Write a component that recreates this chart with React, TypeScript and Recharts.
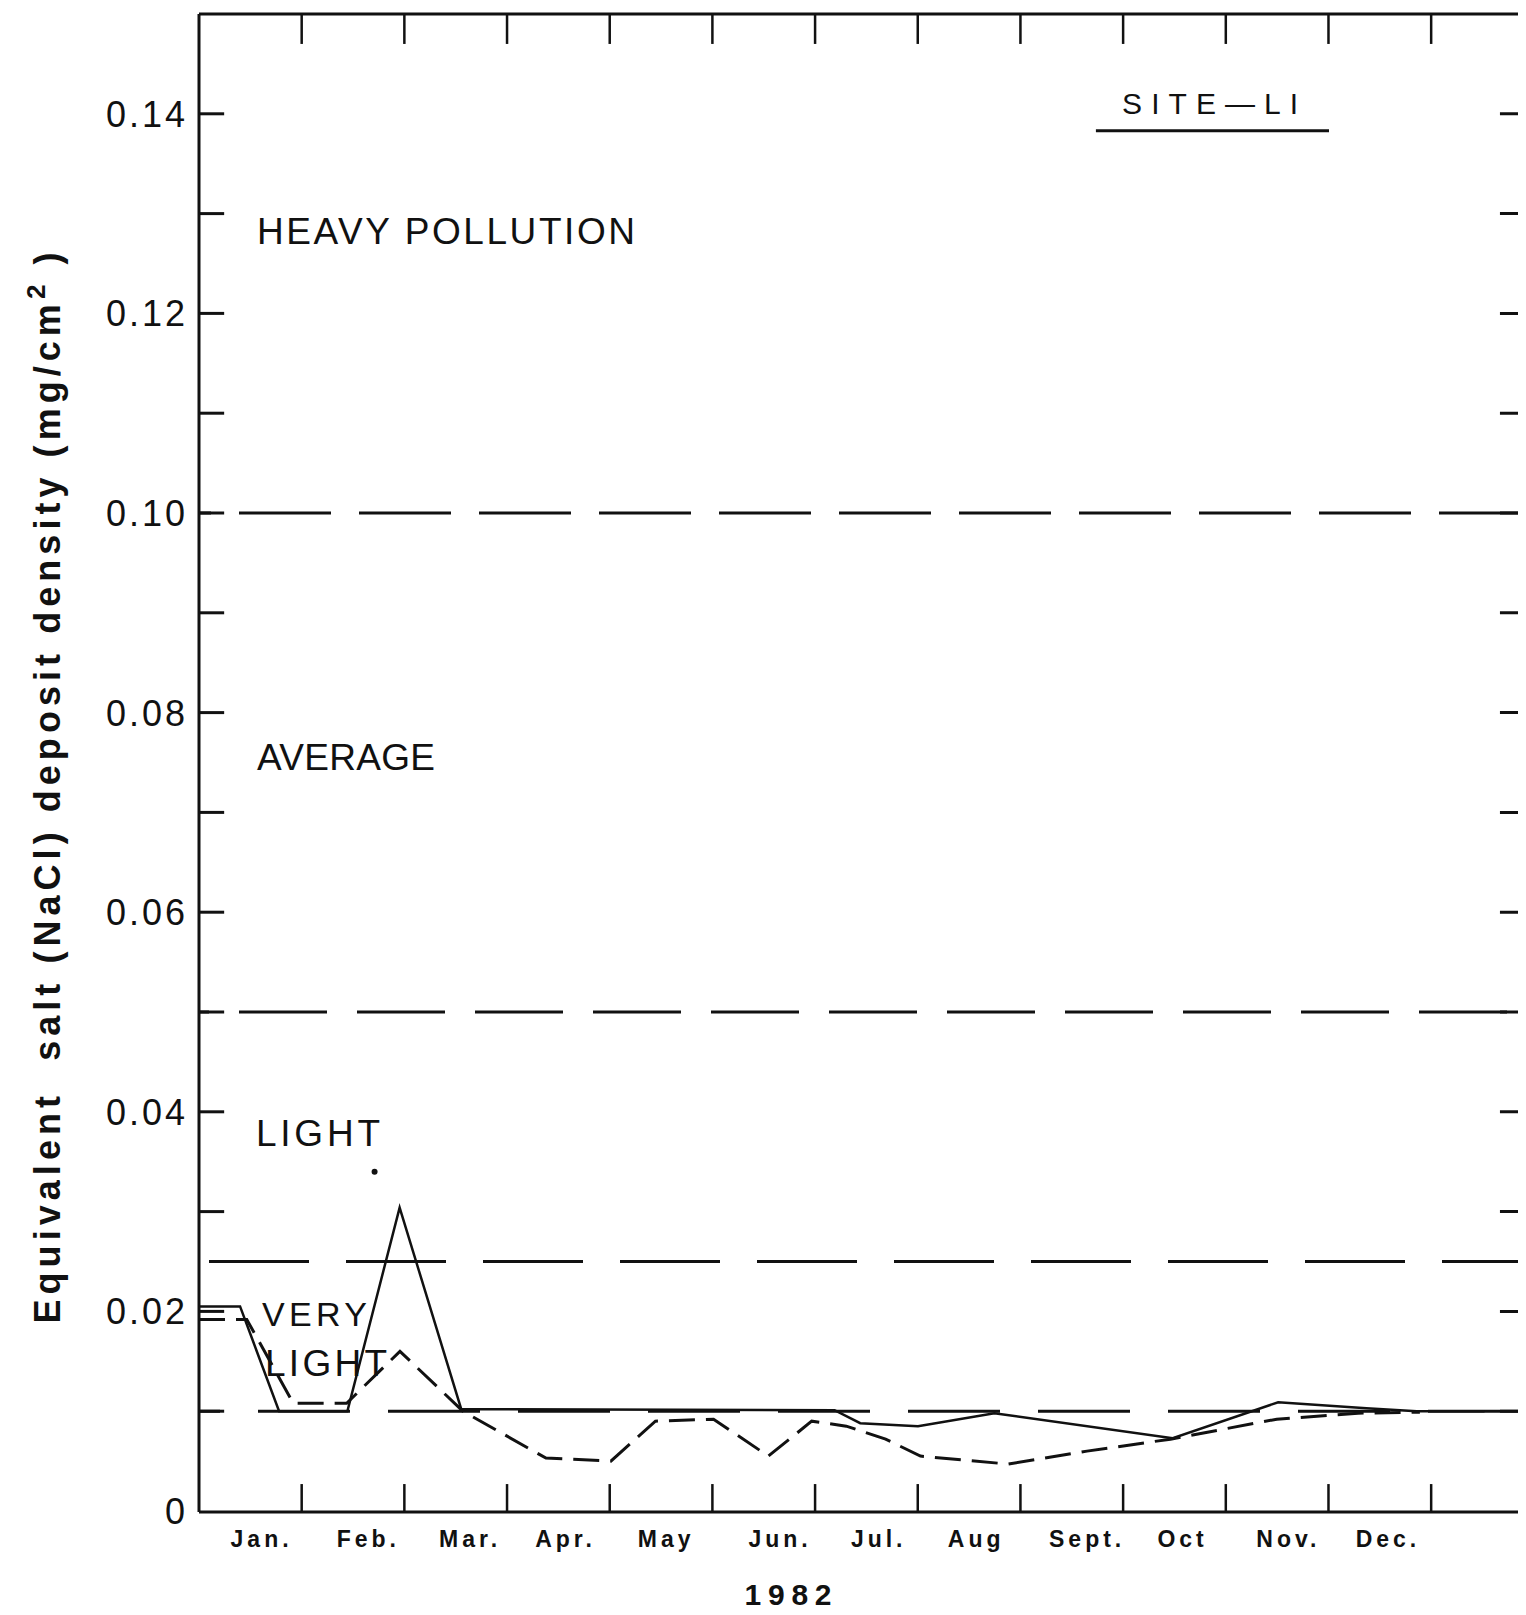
import React from 'react';
import { LineChart, Line, XAxis, YAxis, ReferenceLine, ReferenceDot } from 'recharts';

// ---- categories / ticks ----
const monthNames = ['Jan.', 'Feb.', 'Mar.', 'Apr.', 'May', 'Jun.', 'Jul.', 'Aug', 'Sept.', 'Oct', 'Nov.', 'Dec.'];
const monthLabelPos = [0.59, 1.63, 2.62, 3.55, 4.53, 5.64, 6.6, 7.55, 8.63, 9.56, 10.59, 11.56];
const monthBoundaries = [1, 2, 3, 4, 5, 6, 7, 8, 9, 10, 11, 12];
const yTicks = [0, 0.02, 0.04, 0.06, 0.08, 0.1, 0.12, 0.14];
const yTickLabels = ['0', '0.02', '0.04', '0.06', '0.08', '0.10', '0.12', '0.14'];
const yMinorTicks = [0.01, 0.02, 0.03, 0.04, 0.05, 0.06, 0.07, 0.08, 0.09, 0.1, 0.11, 0.12, 0.13, 0.14];
const classBounds = [0.1, 0.05, 0.025, 0.01];
const yearLabel = '1982';
const yTitleMain = 'Equivalent  salt (NaCl) deposit density (mg/cm';
const yTitleSup = '2';

// ---- series (month position, NaCl density) ----
const solidMonths = [0, 0.4, 0.78, 1.445, 1.954, 2.554, 6.19, 6.44, 7.002, 7.746, 9.483, 10.51, 11.37, 11.86, 12.52];
const solidValues = [0.0205, 0.0205, 0.01, 0.01, 0.0304, 0.0102, 0.0101, 0.0088, 0.0085, 0.0098, 0.0073, 0.0109, 0.0103, 0.01, 0.01];
const dashedMonths = [0, 0.465, 0.918, 1.438, 1.957, 2.57, 3.379, 4.011, 4.445, 5.011, 5.545, 5.967, 6.304, 6.687, 7.026, 7.882, 8.648, 9.461, 10.496, 11.288, 11.89];
const dashedValues = [0.0192, 0.0192, 0.0108, 0.0108, 0.016, 0.01, 0.0053, 0.005, 0.009, 0.0092, 0.0055, 0.009, 0.0085, 0.0072, 0.0055, 0.0047, 0.006, 0.0072, 0.0092, 0.0098, 0.0099];

// ---- annotations ----
const annotationText = ['HEAVY POLLUTION', 'AVERAGE', 'LIGHT', 'VERY', 'LIGHT', 'SITE\u2014LI'];
const annotationX = [0.565, 0.565, 0.555, 0.614, 0.643, 8.99];
const annotationY = [0.127, 0.0742, 0.0366, 0.0185, 0.0135, 0.14];
const siteUnderline = { from: 8.735, to: 11.005, y: 0.1383 };
const strayDot = { x: 1.71, y: 0.034 };

const solidData = solidMonths.map((m, i) => ({ m, v: solidValues[i] }));
const dashedData = dashedMonths.map((m, i) => ({ m, v: dashedValues[i] }));

const annStyle = [
  { size: 37, len: 378 },
  { size: 37, len: 178 },
  { size: 37, len: 124 },
  { size: 34, len: 105 },
  { size: 37, len: 122 },
  { size: 30, len: 176 },
];

const INK = '#111';
const FONT = '"Liberation Sans", Arial, sans-serif';

const MonthTick = (p: any) => {
  const idx = monthLabelPos.indexOf(p.payload.value);
  return (
    <text x={p.x + 2} y={p.y + 17} textAnchor="middle" fill={INK} fontFamily={FONT} fontWeight="bold" fontSize={23} style={{ letterSpacing: 4 }}>
      {monthNames[idx]}
    </text>
  );
};

const YTick = (p: any) => {
  const idx = yTicks.indexOf(p.payload.value);
  return (
    <text x={p.x + 3} y={p.y} dy={13} textAnchor="end" fill={INK} fontFamily={FONT} fontSize={36} style={{ letterSpacing: 3 }}>
      {yTickLabels[idx]}
    </text>
  );
};

const annotationShape = (i: number) => (p: any) => (
  <text x={p.cx} y={p.cy} fill={INK} fontFamily={FONT} fontSize={annStyle[i].size} textLength={annStyle[i].len} lengthAdjust="spacing">
    {annotationText[i]}
  </text>
);

export default function App() {
  return (
    <div style={{ margin: '-8px', width: 1526, height: 1615, overflow: 'hidden', background: '#fff', position: 'relative' }}>
      <LineChart width={1540} height={1615} margin={{ top: 14, right: 0, bottom: 0, left: 0 }}>
        <XAxis
          type="number"
          dataKey="m"
          domain={[0, 13.06]}
          ticks={monthLabelPos}
          interval={0}
          height={103}
          tickSize={0}
          tickMargin={18}
          axisLine={{ stroke: INK, strokeWidth: 3 }}
          tickLine={false}
          tick={MonthTick}
          allowDataOverflow
        />
        <YAxis
          type="number"
          domain={[-0.0001, 0.15]}
          ticks={yTicks}
          interval={0}
          width={199}
          tickSize={0}
          tickMargin={14}
          axisLine={{ stroke: INK, strokeWidth: 3 }}
          tickLine={false}
          tick={YTick}
          allowDataOverflow
        />
        {/* top frame line */}
        <ReferenceLine y={0.15} stroke={INK} strokeWidth={3} ifOverflow="visible" />
        {/* class boundary dashed lines */}
        <ReferenceLine y={classBounds[0]} stroke={INK} strokeWidth={3} strokeDasharray="92 28" strokeDashoffset={-40} />
        <ReferenceLine y={classBounds[1]} stroke={INK} strokeWidth={3} strokeDasharray="88 30" strokeDashoffset={-40} />
        <ReferenceLine y={classBounds[2]} stroke={INK} strokeWidth={3} strokeDasharray="100 37" strokeDashoffset={-10} />
        <ReferenceLine y={classBounds[3]} stroke={INK} strokeWidth={3} strokeDasharray="92 38" strokeDashoffset={71} />
        {/* inward ticks on left and right */}
        {yMinorTicks.map((v) => (
          <ReferenceLine key={'l' + v} segment={[{ x: 0, y: v }, { x: 0.245, y: v }]} stroke={INK} strokeWidth={3} ifOverflow="visible" />
        ))}
        {yMinorTicks.map((v) => (
          <ReferenceLine key={'r' + v} segment={[{ x: 12.67, y: v }, { x: 13.06, y: v }]} stroke={INK} strokeWidth={3} ifOverflow="visible" />
        ))}
        {/* month boundary ticks, bottom and top */}
        {monthBoundaries.map((m) => (
          <ReferenceLine key={'b' + m} segment={[{ x: m, y: -0.0001 }, { x: m, y: 0.0027 }]} stroke={INK} strokeWidth={2.5} ifOverflow="visible" />
        ))}
        {monthBoundaries.map((m) => (
          <ReferenceLine key={'t' + m} segment={[{ x: m, y: 0.15 }, { x: m, y: 0.147 }]} stroke={INK} strokeWidth={2.5} ifOverflow="visible" />
        ))}
        {/* site underline */}
        <ReferenceLine segment={[{ x: siteUnderline.from, y: siteUnderline.y }, { x: siteUnderline.to, y: siteUnderline.y }]} stroke={INK} strokeWidth={3} ifOverflow="visible" />
        {annotationText.map((t, i) => (
          <ReferenceDot key={'a' + i} x={annotationX[i]} y={annotationY[i]} r={0} ifOverflow="visible" shape={annotationShape(i)} />
        ))}
        <ReferenceDot x={strayDot.x} y={strayDot.y} r={3} fill={INK} stroke="none" ifOverflow="visible" />
        <Line data={solidData} dataKey="v" type="linear" stroke={INK} strokeWidth={2.5} dot={false} isAnimationActive={false} />
        <Line data={dashedData} dataKey="v" type="linear" stroke={INK} strokeWidth={3} strokeDasharray="26 11" dot={false} isAnimationActive={false} />
      </LineChart>
      <svg width={1526} height={1615} style={{ position: 'absolute', left: 0, top: 0, pointerEvents: 'none' }}>
        <text
          transform="translate(60 788) rotate(-90)"
          textAnchor="middle"
          fill={INK}
          fontFamily='"Liberation Sans Narrow", "Liberation Sans", Arial, sans-serif'
          fontWeight="bold"
          fontSize={36}
          textLength={1071}
          lengthAdjust="spacing"
          style={{ whiteSpace: 'pre' }}
        >
          {yTitleMain}
          <tspan dy={-15} fontSize={26}>{yTitleSup}</tspan>
          <tspan dy={15}>{' )'}</tspan>
        </text>
        <text x={788} y={1605} textAnchor="middle" fill={INK} fontFamily={FONT} fontWeight="bold" fontSize={30} textLength={87} lengthAdjust="spacing">
          {yearLabel}
        </text>
      </svg>
    </div>
  );
}
